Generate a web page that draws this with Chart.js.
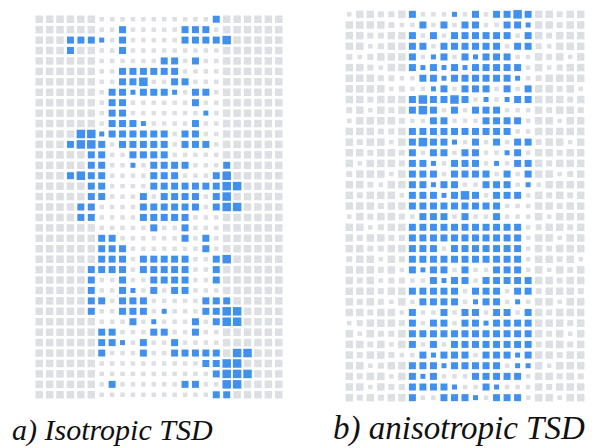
<!DOCTYPE html>
<html>
<head>
<meta charset="utf-8">
<script src="https://cdn.jsdelivr.net/npm/chart.js@4.4.1/dist/chart.umd.min.js"></script>
<style>
  body { margin: 0; background: #fff; }
  #page { position: relative; width: 594px; height: 448px; overflow: hidden; }
  .box { position: absolute; }
  .cap { position: absolute; font-family: "Liberation Serif", Tinos, "Times New Roman", "DejaVu Serif", serif; font-style: italic; line-height: 1; white-space: nowrap; color: #111; }
</style>
</head>
<body>
<div id="page">
  <div class="box" style="left:28px;top:8px;width:262px;height:398px"><canvas id="isoChart"></canvas></div>
  <div class="box" style="left:338px;top:3px;width:254px;height:406px"><canvas id="anisoChart"></canvas></div>
  <div class="cap" style="left:12px;top:415px;font-size:30px">a) Isotropic TSD</div>
  <div class="cap" style="left:333px;top:412px;font-size:33px">b) anisotropic TSD</div>
</div>
<script>
// one string per grid row, one char per cell
// gray: '.' small, ':' medium, 'o' large   blue: 'b' small, 'B' normal, 'W' large
const isoRows = [
  "oooooo ...... .....B oooooo",
  "oooooo ..B... ..BBB. oooooo",
  "oooBBB b.B... ..BBBB Wooooo",
  "oooBoo ..B... ...... oooooo",
  "oooooo ...... BB.B.. oooooo",
  "oooooo ..BBBB BB.... oooooo",
  "oooooo ..BBW. .BB... oooooo",
  "oooooo .BBbBB Bb.BB. oooooo",
  "oooooo .BB... ...B.. oooooo",
  "oooooo .BB... ....b. oooooo",
  "oooooo .BBBb. ...B.. oooooo",
  "ooooWW bBBBBB B.BB.. oooooo",
  "oooBWW B.BBBB B.BBB. oooooo",
  "oooooB B..BBB B..... oooooo",
  "oooooB B..b.B BBB... Booooo",
  "oooBWB B....B BB...B Wooooo",
  "oooooB B....B BBBBBB WWoooo",
  "oooooB B...B. BBBB.B Wooooo",
  "ooooBB ....BB BBBB.B WWoooo",
  "ooooBB ....BB BBB... oooooo",
  "oooooo .....B ..B... oooooo",
  "oooooo BB.... ..B.B. oooooo",
  "oooooo BBB... ....B. oooooo",
  "oooooo BBB.BB BBB..B Wooooo",
  "oooooB BBB.BB BBB..B oooooo",
  "oooooB ..B..B BBB..B oooooo",
  "oooooB ..Bb.B .BB... oooooo",
  "oooooB B.BBB. ....BB Booooo",
  "oooooB ..BBB. b...BB WWoooo",
  "oooooo ...B.b ...B.B WWoooo",
  "oooooo BB...B B..B.. oooooo",
  "oooooo BBb.B. .B.... oooooo",
  "oooooo B...B. .BBBBB oWWooo",
  "oooooo ...... ....BB WWoooo",
  "oooooo ...... .....B WWWooo",
  "oooooo .B.... ..BB.. WWoooo",
  "oooooo ...... .....B Booooo"
];

const anisoRows = [
  ".oo::o B...b. B.BBWB oo:oo",
  "oooo:. .B.B.B B..BBb oo:oo",
  "oo::oo B.B.BB BBBB.B o:ooo",
  "oo.:oo BB.BBB BBB.BB :.ooo",
  ":.:ooo B.bB.B bBBB.. o:o.o",
  "oo:.oo BbBbBb BBBBB. o.:oo",
  "ooo::. .BBbBB BBBBb. :oooo",
  "oooo.: ..bB.B BB.B.B oo:o.",
  "oo:ooo BWBBWB .b.bBB ooo:o",
  ":o.o:o BWB.B. BBB... o:oo:",
  ".oooo: ..BB.. .BBBB. oo.oo",
  "ooo::o BBBBBB BBBB.. ooooo",
  "o:oo.o BWBBb. B.B.BB :oo.o",
  "oo:oo: B.BB.B B..bB. oo:oo",
  "o.ooo: BBb.BB B.b.BB o:ooo",
  ":ooo.o BBB.BB BB.B.B oo.:o",
  "oo:.oo BBbBB. .BBB.b .oooo",
  "o:ooo. BBBbBW B.BBB. o:o:o",
  "ooo:oo BBBBBB BBB... oo:oo",
  ".o:oo: .BBB.B ..B... o.ooo",
  "oo.:oo BBBBBB BBBBB. :oo:o",
  "o:oo:: BBBBBB BBBBB. oo.oo",
  "oo::oo BBB.BB BBBBB. o:ooo",
  ":oo.o: BBBBBB BBBBB. oo:o.",
  "ooo:o. BbBB.B ..BBB. o.o:o",
  "o:o.:: ..BbBB .BBBBB oo:oo",
  "ooo:oo BBBBB. BBB.BB :ooo:",
  "o:o:.o .BBBB. bBB.b. oo.oo",
  "oo:oo. B..B.B B.BB.B o:ooo",
  ".:ooo: B.BB.B BbBBBB ooo:o",
  "o.o::o BBBBBB BBBBBB o:o.o",
  "oo:o.o B.B.BB BBBBBB :oo:o",
  "o:oo:. .BbBBB .BBBbB oo:oo",
  "oo.:oo BBBbBB BBB.bb o.ooo",
  "o:oo.o BbB... BBBBB. oo:o:",
  "oo.o:: BBBBb. .Bb... o:ooo",
  "o:o:oo B..BBB b.BBB. oo.oo"
];

const sideOf = { '.': 4.5, ':': 6, 'o': 7.5, 'b': 5, 'B': 7, 'W': 8.5 };
const grayColor = '#dcdfe3';
const blueColor = '#4190ee';

function toPoints(rows) {
  const gray = [], blue = [];
  rows.forEach((row, r) => {
    row.replace(/ /g, '').split('').forEach((ch, c) => {
      const p = { x: c, y: r, s: sideOf[ch] };
      if (ch === 'b' || ch === 'B' || ch === 'W') blue.push(p); else gray.push(p);
    });
  });
  return { gray, blue };
}

function drawGrid(id, rows) {
  const pts = toPoints(rows);
  const cols = rows[0].replace(/ /g, '').length;
  const common = {
    pointStyle: 'rect',
    pointBorderWidth: 0,
    pointRadius: (ctx) => (ctx.raw ? ctx.raw.s / Math.SQRT2 : 3),
    pointHoverRadius: (ctx) => (ctx.raw ? ctx.raw.s / Math.SQRT2 : 3),
  };
  new Chart(document.getElementById(id), {
    type: 'scatter',
    data: {
      datasets: [
        { ...common, data: pts.gray, backgroundColor: grayColor, pointBackgroundColor: grayColor },
        { ...common, data: pts.blue, backgroundColor: blueColor, pointBackgroundColor: blueColor },
      ],
    },
    options: {
      responsive: true,
      maintainAspectRatio: false,
      animation: false,
      events: [],
      layout: { padding: 0 },
      plugins: { legend: { display: false }, tooltip: { enabled: false } },
      scales: {
        x: { type: 'linear', display: false, min: -0.5, max: cols - 0.5 },
        y: { type: 'linear', display: false, reverse: true, min: -0.5, max: rows.length - 0.5 },
      },
    },
  });
}

drawGrid('isoChart', isoRows);
drawGrid('anisoChart', anisoRows);
</script>
</body>
</html>
